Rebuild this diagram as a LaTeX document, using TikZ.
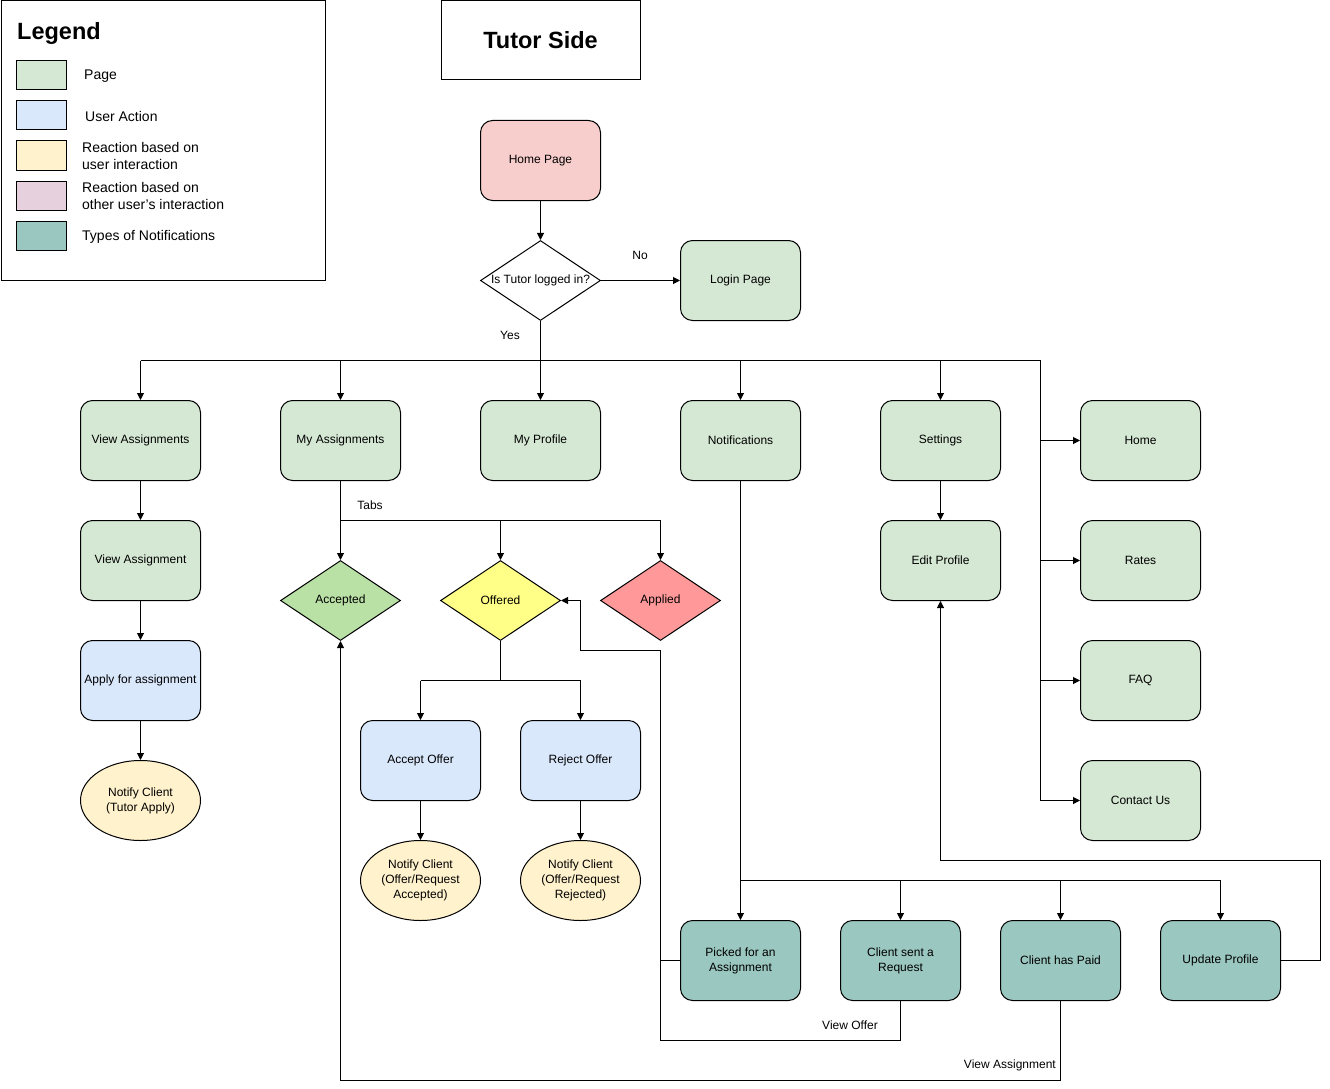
\documentclass[tikz,border=0pt]{standalone}
\usepackage{fontspec}
\setmainfont{Liberation Sans}
\usetikzlibrary{arrows.meta,shapes.geometric}
\definecolor{pagec}{HTML}{D5E8D4}
\definecolor{actc}{HTML}{DAE8FC}
\definecolor{reacc}{HTML}{FFF2CC}
\definecolor{otherc}{HTML}{E6D0DE}
\definecolor{notifc}{HTML}{9AC7BF}
\definecolor{homec}{HTML}{F8CECC}
\definecolor{accc}{HTML}{B9E0A5}
\definecolor{offc}{HTML}{FFFF88}
\definecolor{appc}{HTML}{FF9999}
\begin{document}
\begin{tikzpicture}[x=1pt,y=-1pt,
  every node/.style={font=\fontsize{12}{15}\selectfont, align=center, inner sep=0pt},
  box/.style={draw, rounded corners=12pt, minimum width=120pt, minimum height=80pt, line width=1pt},
  page/.style={box, fill=pagec},
  act/.style={box, fill=actc},
  notif/.style={box, fill=notifc},
  ell/.style={draw, ellipse, fill=reacc, minimum width=120pt, minimum height=80pt, line width=1pt},
  dia/.style={draw, diamond, minimum width=120pt, minimum height=80pt, line width=1pt},
  sw/.style={draw, line width=1pt, minimum width=50pt, minimum height=29pt},
  lgl/.style={anchor=west, align=left, font=\fontsize{14}{17}\selectfont},
  big/.style={font=\bfseries\fontsize{23.5}{28}\selectfont},
  arr/.style={-{Triangle[length=7pt,width=7pt]}, line width=1pt},
  ln/.style={line width=1pt}]
\useasboundingbox (0,0) rectangle (1330,1089);

% legend
\node[draw, line width=1pt, minimum width=324pt, minimum height=279pt] (legend) at (163,140.5) {};
\node[big, anchor=west] (lgt) at (17,33) {Legend};
\node[sw, fill=pagec] (s1) at (41,75.5) {};
\node[sw, fill=actc] (s2) at (41,115.5) {};
\node[sw, fill=reacc] (s3) at (41,155.5) {};
\node[sw, fill=otherc] (s4) at (41,195.5) {};
\node[sw, fill=notifc] (s5) at (41,235.5) {};
\node[lgl] (l1) at (84,76.5) {Page};
\node[lgl] (l2) at (85,116) {User Action};
\node[lgl] (l3) at (82,156) {Reaction based on\\user interaction};
\node[lgl] (l4) at (82,196) {Reaction based on\\other user's interaction};
\node[lgl] (l5) at (82,236.5) {Types of Notifications};

% title
\node[draw, line width=1pt, minimum width=199pt, minimum height=79pt, big] (title) at (540.5,40.5) {Tutor Side};

% top flow
\node[box, fill=homec] (homep) at (540.5,160.5) {Home Page};
\node[dia] (q) at (540.5,280.5) {\makebox[0pt]{Is Tutor logged in?}};
\node[page] (login) at (740.5,280.5) {Login Page};
\node (no) at (640,255) {No};
\node (yes) at (510,335) {Yes};

% main row
\node[page] (va) at (140.5,440.5) {View Assignments};
\node[page] (myas) at (340.5,440.5) {My Assignments};
\node[page] (myprof) at (540.5,440.5) {My Profile};
\node[page] (notifs) at (740.5,440.5) {Notifications};
\node[page] (settings) at (940.5,440.5) {Settings};
\node[page] (home) at (1140.5,440.5) {Home};
\node[page] (rates) at (1140.5,560.5) {Rates};
\node[page] (faq) at (1140.5,680.5) {FAQ};
\node[page] (contact) at (1140.5,800.5) {Contact Us};

% left column
\node[page] (vas) at (140.5,560.5) {View Assignment};
\node[act] (apply) at (140.5,680.5) {Apply for assignment};
\node[ell] (nc1) at (140.5,800.5) {Notify Client\\(Tutor Apply)};

% tabs
\node[dia, fill=accc] (accepted) at (340.5,600.5) {\makebox[0pt]{Accepted}};
\node[dia, fill=offc] (offered) at (500.5,600.5) {\makebox[0pt]{Offered}};
\node[dia, fill=appc] (applied) at (660.5,600.5) {\makebox[0pt]{Applied}};
\node (tabs) at (370,505) {Tabs};
\node[act] (accoff) at (420.5,760.5) {Accept Offer};
\node[act] (rejoff) at (580.5,760.5) {Reject Offer};
\node[ell] (nc2) at (420.5,880.5) {Notify Client\\(Offer/Request\\Accepted)};
\node[ell] (nc3) at (580.5,880.5) {Notify Client\\(Offer/Request\\Rejected)};

% settings
\node[page] (edit) at (940.5,560.5) {Edit Profile};

% notifications
\node[notif] (picked) at (740.5,960.5) {Picked for an\\Assignment};
\node[notif] (sent) at (900.5,960.5) {Client sent a\\Request};
\node[notif] (paid) at (1060.5,960.5) {Client has Paid};
\node[notif] (upd) at (1220.5,960.5) {Update Profile};
\node (vofl) at (850,1025) {View Offer};
\node[anchor=east] (vasl) at (1056,1065) {View Assignment};

% coordinates
\coordinate (bm) at (540.5,360.5);
\coordinate (bl) at (140.5,360.5);
\coordinate (br) at (1040.5,360.5);
\coordinate (tb) at (340.5,520.5);
\coordinate (ob) at (500.5,680.5);
\coordinate (nb) at (740.5,880.5);
\coordinate (ue) at (1320.5,860.5);
\coordinate (pa) at (660.5,650.5);
\coordinate (pb) at (580.5,600.5);
\coordinate (vo) at (660.5,1040.5);
\coordinate (vz) at (340.5,1080.5);

% connectors
\draw[arr] (homep) -- (q);
\draw[arr] (q) -- (login);
\draw[ln] (q.south) -- (bm);
\draw[ln] (bl) -- (br);
\draw[arr] (bl) -- (va);
\draw[arr] (myas |- bm) -- (myas);
\draw[arr] (bm) -- (myprof);
\draw[arr] (notifs |- bm) -- (notifs);
\draw[arr] (settings |- bm) -- (settings);
\draw[ln] (br) -- (br |- contact);
\draw[arr] (br |- home) -- (home);
\draw[arr] (br |- rates) -- (rates);
\draw[arr] (br |- faq) -- (faq);
\draw[arr] (br |- contact) -- (contact);

\draw[arr] (va) -- (vas);
\draw[arr] (vas) -- (apply);
\draw[arr] (apply) -- (nc1);

\draw[ln] (myas) -- (tb);
\draw[ln] (tb) -- (applied |- tb);
\draw[arr] (tb) -- (accepted);
\draw[arr] (offered |- tb) -- (offered);
\draw[arr] (applied |- tb) -- (applied);

\draw[ln] (offered) -- (ob);
\draw[ln] (accoff |- ob) -- (rejoff |- ob);
\draw[arr] (accoff |- ob) -- (accoff);
\draw[arr] (rejoff |- ob) -- (rejoff);
\draw[arr] (accoff) -- (nc2);
\draw[arr] (rejoff) -- (nc3);

\draw[arr] (settings) -- (edit);

\draw[arr] (notifs) -- (picked);
\draw[ln] (nb) -- (upd |- nb);
\draw[arr] (sent |- nb) -- (sent);
\draw[arr] (paid |- nb) -- (paid);
\draw[arr] (upd |- nb) -- (upd);

\draw[arr] (upd.east) -| (ue) -| (edit);
\draw[arr] (picked.west) -| (pa) -| (pb) -- (offered.east);
\draw[ln] (sent) |- (vo) -- (vo |- picked.west);
\draw[arr] (paid) |- (vz) -- (accepted);
\end{tikzpicture}
\end{document}
